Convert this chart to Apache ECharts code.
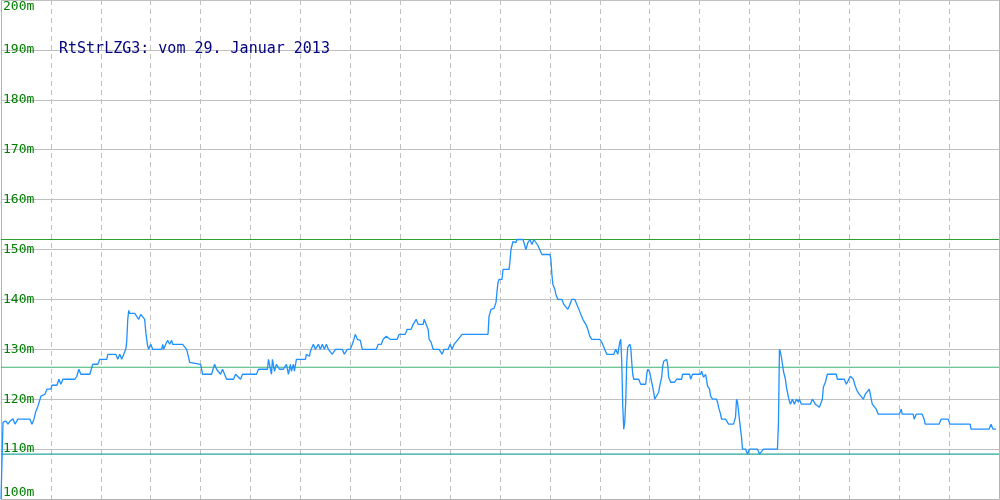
<!DOCTYPE html>
<html>
<head>
<meta charset="utf-8">
<script src="https://cdn.jsdelivr.net/npm/echarts@6/dist/echarts.min.js"></script>
<style>
html,body{margin:0;padding:0;background:#fff;}
#chart{width:1000px;height:500px;}
</style>
</head>
<body>
<div id="chart"></div>
<script>
// Chart title
const titleText = "RtStrLZG3: vom 29. Januar 2013";

// Y axis range / ticks (metres)
const yMin = 100, yMax = 200, yStep = 10;

// Reference levels (metres)
const levelHigh = 152;
const levelMid = 126.4;
const levelLow = 109;

// Sample positions along the time axis (0..1000 scale)
const pos = [0,1,2,3,5,7,9,12,14,16,17,29,31,33,35,37,40,41,44,46,50,51,56,58,60,62,74,76,78,80,89,91,92,97,99,106,107,115,117,119,121,123,124,125,126,127,128,129,134,136,138,140,142,144,145,146,147,148,150,152,161,162,163,165,167,169,171,172,182,184,186,188,189,191,200,202,211,214,216,218,220,222,224,226,230,233,235,237,240,242,256,258,267,268,270,271,272,274,276,279,283,286,288,290,291,293,294,296,298,305,306,307,309,310,311,313,315,318,320,322,324,326,328,330,332,335,342,344,347,350,352,353,355,357,360,362,376,378,381,383,386,388,390,397,399,405,407,411,413,416,418,423,424,426,428,429,431,433,439,442,444,448,450,452,454,456,458,460,462,488,489,491,494,495,496,497,498,499,502,503,509,510,511,513,514,515,516,517,523,524,526,528,530,532,534,536,538,540,542,550,551,552,553,555,556,558,562,564,566,568,570,572,575,577,579,581,583,586,588,590,592,600,602,604,607,614,616,618,620,621,622,623,624,625,626,627,628,630,631,632,633,634,639,641,646,647,648,650,651,652,654,655,657,659,660,662,663,664,665,667,668,669,671,673,675,677,682,683,690,691,693,701,702,704,706,708,710,711,713,717,718,719,721,722,726,727,729,734,736,737,738,740,741,742,743,746,748,750,758,760,762,764,778,779,780,781,782,783,784,786,787,789,790,791,793,795,797,799,800,802,811,813,815,816,818,820,821,823,824,826,828,837,838,845,847,849,851,852,854,856,858,860,862,864,866,868,870,872,873,875,877,879,900,902,903,914,915,917,923,925,926,940,942,949,951,971,972,990,992,994,997];

// Water level in metres at each sample position
const level = [100,100,115.4,115.6,115.6,115,115.6,116.1,115,115,116,116,115,116,117.6,118.6,120.6,121,121,122,122,122.8,122.8,124,123,124,124,124.6,126,125,125,126.4,127,127,128,128,129,129,128,129,128,129,129.4,130,131.6,136,137.8,137.2,137.2,137,136,137,137,136,133.6,132,130.6,130,131,130,130,131,130,131,131.8,131,131.8,131,131,131,130,128.4,127.4,127,127,125,125,127,126,126,125,126,125,124,124,124,125,125,124,125,125,126,126,128,128,125,128,125.6,127,126,126,127,125,127,125.6,127,125.6,128,128,128,129,129.4,128.6,129.6,130,131,130,131,130,131,130,131,130,130,129,130,130,129,130,130,131,131.6,133,132,131.8,130,130,131,131,132,132.6,133,132,132,133,133,134,134,135,136,135,135,136,135,134,132,131.4,130,130,129,130,130,131,130,131,131,132,132,133,133,136.6,138,138.2,138.4,139.4,141.6,143.4,144,144,146,146,147.6,150,151.6,152,152,151.4,152,152,151.4,150,151.4,152,151,152,151.4,150.8,150.6,149,149,148,145,143,142,141,140,140,139,138.6,138,139,140,140,139,138,137,136,135,134,132.6,132,132,131.4,131,129,129,130,129,131.4,132,127.4,118.6,114,115.4,119.6,127.4,130.4,131,130.4,127.4,125,124,124,123,123,125,126,125.4,125,123.4,121.4,120,120,121.4,122.6,124.4,126.6,127.6,128,128,127,124.4,123.4,123,123.4,124,124,125,125,124,125,125,125.6,124.4,125,122.6,122,120.6,120,120,119.4,118.4,117,116,116,115.6,115,115,116.4,120,119.4,119,114,112.4,110,110,109,110,110,109,109,110,110,115,130,129.4,128.4,127,125.6,124,122.4,120.4,119.6,119,120,119,120,119.4,120,119,119,120,120,119,119,118.4,118,120,122.4,123.4,125,125,124,124,123,123,124.6,125,124,122.6,121.6,121,120.6,120,121,121.4,122,122,119,118.6,118,117,117,118,117,117,116,117,117,116,115,115,116,116,115,115,114,114,115,114,114];

const seriesData = pos.map((p, i) => [p, level[i]]);

function refLine(value, color) {
  return {
    type: 'line',
    data: [[0, value], [1000, value]],
    silent: true,
    showSymbol: false,
    symbol: 'none',
    z: 4,
    color: color,
    itemStyle: {color: color},
    lineStyle: {color: color, type: 'solid', width: 1.2, opacity: 1},
    emphasis: {disabled: true}
  };
}

const chart = echarts.init(document.getElementById('chart'), null, {renderer: 'canvas'});
chart.setOption({
  animation: false,
  backgroundColor: '#ffffff',
  title: {
    text: titleText,
    left: 59,
    top: 41,
    padding: 0,
    textStyle: {
      color: '#000080',
      fontFamily: 'DejaVu Sans Mono',
      fontSize: 15,
      fontWeight: 'normal',
      lineHeight: 16
    }
  },
  grid: {left: 0, right: 1, top: 0, bottom: 1, containLabel: false},
  xAxis: {
    type: 'value',
    min: 0, max: 1000, interval: 50,
    axisLine: {show: true, lineStyle: {color: '#b4b4b4', width: 1}},
    axisTick: {show: false},
    axisLabel: {show: false},
    splitLine: {show: true, lineStyle: {color: '#c0c0c0', type: [5, 4], width: 1}}
  },
  yAxis: [{
    type: 'value',
    min: yMin, max: yMax, interval: yStep,
    axisLine: {show: true, lineStyle: {color: '#b4b4b4', width: 1}},
    axisTick: {show: false},
    axisLabel: {
      show: true, inside: true, margin: 2,
      color: '#008000',
      fontFamily: 'DejaVu Sans Mono',
      fontSize: 13,
      formatter: '{value}m',
      verticalAlignMinLabel: 'bottom',
      verticalAlignMaxLabel: 'top'
    },
    splitLine: {show: true, lineStyle: {color: '#c0c0c0', width: 1, type: 'solid'}}
  }, {
    type: 'value',
    position: 'right',
    min: yMin, max: yMax, interval: yStep,
    axisLine: {show: true, lineStyle: {color: '#b4b4b4', width: 1}},
    axisTick: {show: false},
    axisLabel: {show: false},
    splitLine: {show: false}
  }],
  series: [
    refLine(levelHigh, '#2ca02c'),
    refLine(levelMid, '#3cb371'),
    refLine(levelLow, '#20a89e'),
    {
      type: 'line',
      data: seriesData,
      showSymbol: false,
      symbol: 'none',
      lineStyle: {color: '#1e90ff', width: 1.3},
      z: 5
    }
  ]
});
</script>
</body>
</html>
